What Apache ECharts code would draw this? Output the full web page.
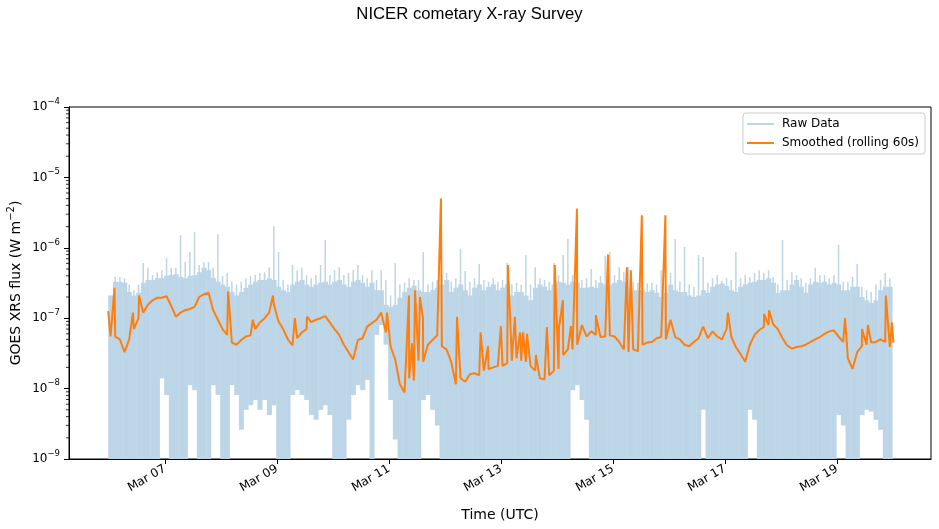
<!DOCTYPE html>
<html><head><meta charset="utf-8">
<script src="https://cdn.jsdelivr.net/npm/echarts@6/dist/echarts.min.js"></script>
<style>html,body{margin:0;padding:0;background:#fff}#c{width:939px;height:529px}</style>
</head><body><div id="c"></div>
<script>
// ---- data ----
const titleText = 'NICER cometary X-ray Survey';
const seriesNames = ['Raw Data', 'Smoothed (rolling 60s)'];
const tickDays = [7, 9, 11, 13, 15, 17, 19];           // March, UTC
const binStartUTC = Date.UTC(2025, 2, 5, 23, 40);       // first 2-hour bin
const binHours = 2;
const axisMinUTC = Date.UTC(2025, 2, 5, 6, 52);
const axisMaxUTC = Date.UTC(2025, 2, 20, 16, 18);

// raw flux per 2-hour bin: typical upper envelope, highest spike, lowest value
const rawTop = [
2.1e-7,3.3e-7,3.3e-7,3.2e-7,2.35e-7,2.1e-7,2.3e-7,3.2e-7,3.5e-7,3.5e-7,
3.7e-7,3.7e-7,4.0e-7,4.1e-7,4.2e-7,3.85e-7,3.7e-7,4.0e-7,4.1e-7,4.5e-7,
5.2e-7,4.8e-7,3.7e-7,3.3e-7,3.0e-7,2.8e-7,2.35e-7,2.1e-7,2.35e-7,2.7e-7,
3.0e-7,3.3e-7,3.5e-7,3.5e-7,3.7e-7,3.5e-7,2.8e-7,2.5e-7,2.35e-7,3.0e-7,
3.3e-7,3.5e-7,3.0e-7,2.8e-7,3.0e-7,3.2e-7,3.3e-7,3.0e-7,3.3e-7,3.5e-7,
3.0e-7,2.8e-7,3.3e-7,3.5e-7,3.2e-7,2.8e-7,3.2e-7,2.5e-7,2.5e-7,1.55e-7,
1.45e-7,1.55e-7,1.95e-7,2.35e-7,2.7e-7,2.9e-7,2.5e-7,2.35e-7,2.35e-7,2.5e-7,
2.7e-7,3.0e-7,3.5e-7,2.35e-7,2.7e-7,3.0e-7,2.5e-7,2.1e-7,2.7e-7,3.0e-7,
2.5e-7,2.8e-7,3.0e-7,2.5e-7,2.7e-7,3.0e-7,2.1e-7,2.35e-7,2.35e-7,2.1e-7,
1.8e-7,2.7e-7,3.0e-7,2.8e-7,2.5e-7,3.0e-7,3.3e-7,3.2e-7,3.0e-7,3.3e-7,
3.2e-7,2.7e-7,2.7e-7,2.8e-7,2.7e-7,3.2e-7,3.0e-7,3.0e-7,3.2e-7,3.5e-7,
3.3e-7,2.7e-7,2.5e-7,2.5e-7,2.5e-7,2.35e-7,2.5e-7,2.3e-7,2.0e-7,2.3e-7,
3.0e-7,2.5e-7,2.35e-7,2.35e-7,2.1e-7,2.0e-7,2.1e-7,2.5e-7,2.3e-7,2.8e-7,
3.0e-7,3.1e-7,2.9e-7,2.5e-7,2.35e-7,2.8e-7,3.0e-7,3.2e-7,3.3e-7,3.5e-7,
3.5e-7,3.7e-7,3.2e-7,2.3e-7,2.5e-7,2.5e-7,3.0e-7,3.5e-7,2.8e-7,2.3e-7,
3.0e-7,3.3e-7,3.2e-7,3.3e-7,3.0e-7,3.2e-7,3.0e-7,2.5e-7,2.5e-7,2.8e-7,
2.8e-7,2.0e-7,1.8e-7,1.65e-7,1.8e-7,2.5e-7,2.8e-7,2.8e-7
];
const rawPeak = [
2.1e-7,3.85e-7,3.85e-7,3.7e-7,3.0e-7,2.5e-7,3.0e-7,6.1e-7,5.2e-7,4.1e-7,
4.5e-7,4.8e-7,7.2e-7,5.2e-7,5.2e-7,1.52e-6,6.3e-7,8.7e-7,1.68e-6,5.7e-7,
6.3e-7,6.3e-7,5.2e-7,1.57e-6,4.0e-7,4.4e-7,3.3e-7,3.0e-7,3.3e-7,3.7e-7,
4.0e-7,4.1e-7,4.4e-7,4.5e-7,5.3e-7,2.04e-6,8.7e-7,3.5e-7,3.0e-7,5.7e-7,
4.8e-7,5.2e-7,4.1e-7,3.7e-7,4.1e-7,5.7e-7,1.29e-6,4.1e-7,4.8e-7,5.3e-7,
4.1e-7,4.4e-7,4.8e-7,5.7e-7,4.1e-7,3.7e-7,4.8e-7,3.5e-7,4.8e-7,3.5e-7,
2.1e-7,6.1e-7,3.0e-7,3.2e-7,3.7e-7,3.5e-7,3.5e-7,8.7e-7,3.0e-7,3.3e-7,
3.5e-7,4.1e-7,4.4e-7,3.3e-7,3.7e-7,9.6e-7,4.7e-7,3.3e-7,3.7e-7,5.9e-7,
3.5e-7,3.3e-7,3.7e-7,3.3e-7,3.5e-7,6.1e-7,3.0e-7,3.2e-7,3.0e-7,7.9e-7,
3.0e-7,5.3e-7,3.7e-7,3.5e-7,3.3e-7,6.1e-7,4.1e-7,7.9e-7,1.33e-6,4.1e-7,
3.7e-7,3.5e-7,3.7e-7,5.0e-7,3.5e-7,4.0e-7,7.7e-7,8.7e-7,4.1e-7,5.3e-7,
4.5e-7,5.3e-7,3.3e-7,3.2e-7,3.2e-7,3.1e-7,3.2e-7,3.0e-7,4.8e-7,3.0e-7,
4.4e-7,1.33e-6,3.3e-7,1.03e-6,3.0e-7,2.8e-7,7.9e-7,7.4e-7,3.2e-7,3.7e-7,
4.1e-7,3.4e-7,3.7e-7,3.5e-7,8.7e-7,3.7e-7,4.1e-7,3.85e-7,4.4e-7,4.8e-7,
4.4e-7,4.8e-7,3.85e-7,3.0e-7,1.29e-6,3.5e-7,4.5e-7,4.1e-7,3.7e-7,3.2e-7,
3.7e-7,5.2e-7,4.1e-7,4.1e-7,3.7e-7,4.1e-7,1.10e-6,3.3e-7,3.3e-7,3.85e-7,
5.9e-7,2.8e-7,2.5e-7,2.35e-7,3.0e-7,3.5e-7,4.4e-7,3.7e-7
];
const rawLow = [
5e-10,5e-10,5e-10,5e-10,5e-10,5e-10,5e-10,5e-10,5e-10,5e-10,
5e-10,1.4e-8,8.1e-9,5e-10,5e-10,5e-10,5e-10,1.12e-8,9.5e-9,5e-10,
5e-10,5e-10,1.12e-8,8.1e-9,5e-10,5e-10,1.12e-8,8.1e-9,2.6e-9,5.0e-9,
5.8e-9,6.9e-9,5.0e-9,6.9e-9,4.2e-9,5.8e-9,5e-10,5e-10,5e-10,8.1e-9,
9.5e-9,8.1e-9,6.9e-9,4.2e-9,3.6e-9,5.0e-9,5.8e-9,4.2e-9,5e-10,5e-10,
5e-10,3.6e-9,8.1e-9,1.12e-8,9.5e-9,1.33e-8,5e-10,5.8e-8,8.0e-8,4.2e-8,
6.9e-9,1.9e-9,5e-10,5e-10,5e-10,5e-10,5e-10,6.9e-9,8.1e-9,5.0e-9,
3.0e-9,5e-10,5e-10,5e-10,5e-10,5e-10,5e-10,5e-10,5e-10,5e-10,
5e-10,5e-10,5e-10,5e-10,5e-10,5e-10,5e-10,5e-10,5e-10,5e-10,
5e-10,5e-10,5e-10,5e-10,5e-10,5e-10,5e-10,5e-10,5e-10,9.5e-9,
1.12e-8,6.9e-9,3.6e-9,5e-10,5e-10,5e-10,5e-10,5e-10,5e-10,5e-10,
5e-10,5e-10,5e-10,5e-10,5e-10,5e-10,5e-10,5e-10,5e-10,5e-10,
5e-10,5e-10,5e-10,5e-10,5e-10,5e-10,5e-10,5.0e-9,5e-10,5e-10,
5e-10,5e-10,5e-10,5e-10,5e-10,5e-10,5e-10,5.0e-9,3.6e-9,5e-10,
5e-10,5e-10,5e-10,5e-10,5e-10,5e-10,5e-10,5e-10,5e-10,5e-10,
5e-10,5e-10,5e-10,5e-10,5e-10,5e-10,4.2e-9,3.0e-9,5e-10,5e-10,
5e-10,4.2e-9,5.0e-9,4.7e-9,3.6e-9,2.6e-9,5e-10,5e-10
];
// smoothed flux at each bin centre, plus short flare spikes (hours after binStartUTC)
const smoothBase = [
5.5e-8,5.5e-8,5.0e-8,3.3e-8,5.0e-8,7.0e-8,1.0e-7,1.2e-7,1.55e-7,1.8e-7,
1.95e-7,1.95e-7,2.05e-7,1.5e-7,1.05e-7,1.2e-7,1.3e-7,1.35e-7,1.45e-7,2.0e-7,
2.2e-7,2.3e-7,1.3e-7,9.5e-8,7.0e-8,5.8e-8,4.5e-8,4.2e-8,4.9e-8,5.5e-8,
5.7e-8,7.0e-8,8.7e-8,1.0e-7,1.2e-7,1.55e-7,9.0e-8,7.0e-8,5.0e-8,4.1e-8,
5.2e-8,6.3e-8,7.0e-8,8.8e-8,9.5e-8,1.0e-7,1.07e-7,8.7e-8,7.0e-8,5.8e-8,
4.2e-8,3.3e-8,2.6e-8,4.9e-8,5.2e-8,7.6e-8,8.5e-8,9.5e-8,1.2e-7,6.3e-8,
4.0e-8,2.6e-8,1.15e-8,8.8e-9,1.4e-8,1.3e-8,2.5e-8,2.4e-8,4.2e-8,4.9e-8,
5.7e-8,4.0e-8,3.6e-8,2.4e-8,1.15e-8,1.4e-8,1.25e-8,1.6e-8,1.65e-8,1.55e-8,
1.8e-8,1.9e-8,2.0e-8,2.1e-8,2.1e-8,2.3e-8,2.5e-8,2.7e-8,2.5e-8,2.4e-8,
2.1e-8,1.8e-8,1.4e-8,1.35e-8,1.55e-8,1.8e-8,1.9e-8,3.0e-8,3.6e-8,3.6e-8,
4.2e-8,8.0e-8,5.5e-8,6.5e-8,5.8e-8,5.4e-8,5.5e-8,5.7e-8,5.5e-8,4.6e-8,
3.6e-8,3.3e-8,3.6e-8,3.4e-8,4.2e-8,4.5e-8,4.6e-8,5.2e-8,5.4e-8,5.0e-8,
9.5e-8,5.4e-8,5.0e-8,4.2e-8,4.0e-8,4.6e-8,5.2e-8,7.6e-8,5.2e-8,6.5e-8,
5.5e-8,5.0e-8,7.0e-8,5.5e-8,3.9e-8,3.1e-8,2.4e-8,4.2e-8,5.8e-8,6.8e-8,
7.5e-8,8.0e-8,8.2e-8,7.0e-8,5.2e-8,4.1e-8,3.7e-8,3.9e-8,4.0e-8,4.2e-8,
4.6e-8,5.0e-8,5.4e-8,6.0e-8,6.5e-8,6.7e-8,5.5e-8,4.6e-8,2.7e-8,1.9e-8,
3.3e-8,4.0e-8,4.2e-8,4.5e-8,4.6e-8,5.0e-8,4.6e-8,3.9e-8
];
const spikeHours = [0,2.7,10.6,13.2,51.4,62.0,70.6,80.0,85.2,119.5,128.9,130.2,131.5,133.6,134.9,142.6,149.5,159.6,162.8,168.3,171.3,174.3,176.5,177.8,179.5,183.3,188.0,191.4,193.2,194.9,198.3,200.9,209.0,214.2,222.3,224.0,228.7,238.8,265.6,281.1,283.2,315.8,323.1,325.6,333.3,335.9,336.5];
const spikeValues = [1.26e-7,2.7e-7,1.2e-7,2.1e-7,2.4e-7,9.5e-8,2.1e-7,1.0e-7,1.05e-7,1.2e-7,2.1e-7,4.4e-8,2.5e-7,2.0e-7,1.0e-7,5.0e-6,1.05e-7,6.3e-8,4.0e-8,7.7e-8,5.7e-7,1.05e-7,6.3e-8,6.3e-8,6.0e-8,3.0e-8,7.5e-8,5.7e-7,7.5e-8,1.8e-7,7.7e-8,3.6e-6,1.1e-7,8.0e-7,5.3e-7,4.8e-7,2.9e-6,2.9e-6,1.2e-7,1.15e-7,1.3e-7,1.0e-7,7.0e-8,8.0e-8,2.1e-7,8.7e-8,4.5e-8];

// ---- build ----
const HOUR = 3600000;
const RAW_COLOR = '#bcd6e8';
const SMOOTH_COLOR = '#ff7f0e';
const Y_MIN = 1e-9, Y_MAX = 1e-4;

const rawData = rawTop.map((v, i) => [
  binStartUTC + i * binHours * HOUR,
  binStartUTC + (i + 1) * binHours * HOUR,
  v, rawPeak[i], rawLow[i]
]);
const smoothData = smoothBase.map((v, i) => [binStartUTC + (i + 0.5) * binHours * HOUR, v])
  .concat(spikeHours.map((h, k) => [binStartUTC + h * HOUR, spikeValues[k]]))
  .sort((a, b) => a[0] - b[0]);

const FONT = 'DejaVu Sans';
const chart = echarts.init(document.getElementById('c'), null, {renderer: 'canvas'});
const pad2 = n => (n < 10 ? '0' : '') + n;
const months = ['Jan','Feb','Mar','Apr','May','Jun','Jul','Aug','Sep','Oct','Nov','Dec'];
const tickTimes = tickDays.map(d => Date.UTC(2025, 2, d));

chart.setOption({
  animation: false,
  backgroundColor: '#ffffff',
  title: {
    text: titleText, left: 'center', top: 6, padding: 0,
    textStyle: {fontFamily: 'Liberation Sans', fontSize: 16.7, fontWeight: 'normal', color: '#000'}
  },
  legend: {
    orient: 'vertical', right: 14, top: 113,
    padding: [4, 6, 4, 4], itemGap: 5, itemWidth: 27, itemHeight: 2,
    borderColor: '#cccccc', borderWidth: 1, borderRadius: 3,
    backgroundColor: 'rgba(255,255,255,0.8)',
    textStyle: {fontFamily: FONT, fontSize: 12, color: '#000', lineHeight: 14, padding: [0, 0, 0, 3]},
    data: [
      {name: seriesNames[0], icon: 'rect', itemStyle: {color: RAW_COLOR}},
      {name: seriesNames[1], icon: 'rect', itemStyle: {color: SMOOTH_COLOR}}
    ]
  },
  grid: {left: 69, right: 8, top: 107, bottom: 70, show: true, borderColor: '#000', borderWidth: 1,
    backgroundColor: '#fff', containLabel: false, outerBoundsMode: 'none'},
  xAxis: {
    type: 'value', min: axisMinUTC, max: axisMaxUTC, scale: true,
    name: 'Time (UTC)', nameLocation: 'middle', nameGap: 49, nameMoveOverlap: false,
    nameTextStyle: {fontFamily: FONT, fontSize: 14, color: '#000'},
    axisLine: {show: true, lineStyle: {color: '#000', width: 1}},
    axisTick: {show: true, length: 5, lineStyle: {color: '#000', width: 1}, customValues: tickTimes},
    axisLabel: {
      rotate: 30, margin: 9, fontFamily: FONT, fontSize: 12, color: '#000',
      customValues: tickTimes,
      formatter: v => { const d = new Date(v); return months[d.getUTCMonth()] + ' ' + pad2(d.getUTCDate()); }
    },
    splitLine: {show: false}
  },
  yAxis: {
    type: 'log', logBase: 10, min: Y_MIN, max: Y_MAX,
    name: '{a|GOES XRS flux (W m}{s|\u22122}{a|)}', nameLocation: 'middle', nameGap: 43, nameRotate: 90,
    nameMoveOverlap: false,
    nameTextStyle: {rich: {
      a: {fontFamily: FONT, fontSize: 14, color: '#000', lineHeight: 20, verticalAlign: 'middle'},
      s: {fontFamily: FONT, fontSize: 10, color: '#000', lineHeight: 11, verticalAlign: 'top'}
    }},
    axisLine: {show: true, lineStyle: {color: '#000', width: 1}},
    axisTick: {show: true, length: 5, lineStyle: {color: '#000', width: 1}},
    minorTick: {show: false},
    axisLabel: {
      margin: 9,
      formatter: v => { const n = Math.round(Math.log10(v)); return '{b|10}{s|\u2212' + Math.abs(n) + '}'; },
      rich: {
        b: {fontFamily: FONT, fontSize: 12, color: '#000', lineHeight: 20, verticalAlign: 'middle'},
        s: {fontFamily: FONT, fontSize: 8.5, color: '#000', lineHeight: 10, verticalAlign: 'top'}
      }
    },
    splitLine: {show: false}
  },
  series: [
    {
      name: seriesNames[0], type: 'custom', clip: true,
      itemStyle: {color: RAW_COLOR},
      encode: {x: [0, 1], y: [2, 3, 4]},
      data: rawData,
      renderItem: (params, api) => {
        const t0 = api.value(0), t1 = api.value(1);
        const top = api.value(2), peak = api.value(3);
        const lo = Math.max(api.value(4), Y_MIN);
        const a = api.coord([t0, top]);
        const b = api.coord([t1, lo]);
        const pk = api.coord([(t0 + t1) / 2, peak]);
        return {type: 'group', children: [
          {type: 'rect', shape: {x: a[0], y: a[1], width: b[0] - a[0] + 0.4, height: b[1] - a[1]}, style: {fill: RAW_COLOR}},
          {type: 'line', shape: {x1: pk[0], y1: pk[1], x2: pk[0], y2: a[1] + 1}, style: {stroke: RAW_COLOR, lineWidth: 1.5}}
        ]};
      },
      z: 1
    },
    {
      name: seriesNames[1], type: 'line', color: SMOOTH_COLOR,
      showSymbol: false, symbol: 'none', clip: true,
      lineStyle: {color: SMOOTH_COLOR, width: 2},
      data: smoothData, z: 3
    }
  ]
});

// log-axis minor ticks (2..9 x 10^n), positioned through the axis scale
const minor = [];
for (let e = -9; e < -4; e++) {
  for (let k = 2; k <= 9; k++) {
    const v = k * Math.pow(10, e);
    const p = chart.convertToPixel({gridIndex: 0}, [axisMinUTC, v]);
    minor.push({type: 'line', silent: true, z: 10,
      shape: {x1: p[0] - 3, y1: p[1], x2: p[0], y2: p[1]},
      style: {stroke: '#000', lineWidth: 0.8}});
  }
}
chart.setOption({graphic: minor});
</script>
</body></html>
